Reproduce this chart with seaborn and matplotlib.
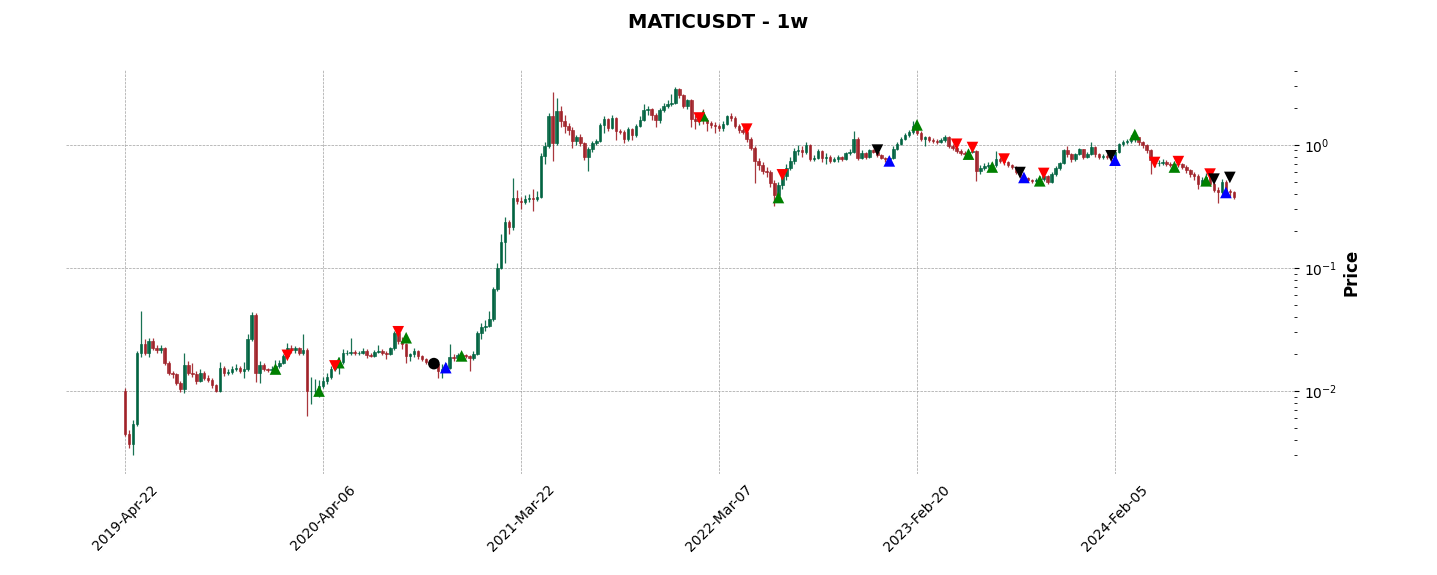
import numpy as np
import pandas as pd
import matplotlib
matplotlib.use("Agg")
import matplotlib.pyplot as plt
import seaborn as sns

# weekly candles, index 0 = 2019-Apr-22; open of each week = close of the week before
first_open = 0.0100
closes = [
    0.00445, 0.00373, 0.00536, 0.0205, 0.0239, 0.0205, 0.0255, 0.0225, 0.0215, 0.0225,
    0.0170, 0.0141, 0.0137, 0.0117, 0.0103, 0.0163, 0.0141, 0.0138, 0.0121, 0.0141,
    0.0128, 0.0123, 0.0112, 0.0100, 0.0153, 0.0140, 0.0142, 0.0150, 0.0155, 0.0145,
    0.0150, 0.0263, 0.0415, 0.0141, 0.0163, 0.0150, 0.0148, 0.0152, 0.0160, 0.0170,
    0.0193, 0.0225, 0.0215, 0.0225, 0.0205, 0.0215, 0.0100, 0.0100, 0.0101, 0.0110,
    0.0121, 0.0130, 0.0150, 0.0160, 0.0172, 0.0205, 0.0205, 0.0207, 0.0203, 0.0205,
    0.0213, 0.0197, 0.0193, 0.0208, 0.0213, 0.0203, 0.0199, 0.0222, 0.0298, 0.0255,
    0.0240, 0.0193, 0.0199, 0.0211, 0.0193, 0.0181, 0.0172, 0.0170, 0.0165, 0.0145,
    0.0150, 0.0155, 0.0190, 0.0185, 0.0195, 0.0195, 0.0193, 0.0185, 0.0199, 0.0298,
    0.0334, 0.0340, 0.0383, 0.0671, 0.1006, 0.161, 0.234, 0.213, 0.373, 0.35,
    0.34, 0.36, 0.37, 0.36, 0.38, 0.81, 0.98, 1.72, 1.04, 1.89,
    1.57, 1.43, 1.32, 1.08, 1.15, 1.03, 0.79, 0.92, 1.03, 1.08,
    1.45, 1.62, 1.38, 1.64, 1.30, 1.28, 1.11, 1.34, 1.20, 1.43,
    1.59, 1.92, 1.95, 1.73, 1.59, 1.92, 2.07, 2.14, 2.20, 2.84,
    2.52, 2.07, 2.30, 1.61, 1.55, 1.62, 1.58, 1.50, 1.45, 1.42,
    1.37, 1.47, 1.70, 1.65, 1.43, 1.32, 1.28, 1.11, 0.95, 0.74,
    0.68, 0.61, 0.60, 0.49, 0.39, 0.47, 0.56, 0.65, 0.74, 0.89,
    0.91, 0.87, 1.00, 0.77, 0.78, 0.89, 0.78, 0.80, 0.74, 0.76,
    0.79, 0.77, 0.85, 0.88, 1.11, 0.78, 0.85, 0.80, 0.90, 0.88,
    0.82, 0.78, 0.76, 0.78, 0.93, 1.02, 1.12, 1.20, 1.27, 1.42,
    1.25, 1.12, 1.15, 1.10, 1.08, 1.06, 1.10, 1.15, 0.98, 0.95,
    0.89, 0.86, 0.84, 0.87, 0.89, 0.61, 0.65, 0.67, 0.69, 0.68,
    0.76, 0.74, 0.72, 0.68, 0.66, 0.60, 0.56, 0.54, 0.52, 0.51,
    0.52, 0.53, 0.56, 0.50, 0.58, 0.65, 0.71, 0.905, 0.84, 0.76,
    0.84, 0.92, 0.80, 0.84, 0.96, 0.84, 0.79, 0.81, 0.80, 0.78,
    0.88, 1.01, 1.05, 1.08, 1.14, 1.15, 1.05, 1.00, 0.90, 0.75,
    0.71, 0.71, 0.73, 0.70, 0.69, 0.70, 0.70, 0.66, 0.62, 0.58,
    0.56, 0.48, 0.52, 0.55, 0.48, 0.43, 0.41, 0.50, 0.42, 0.41,
    0.38,
]
highs = [
    0.0105, 0.0048, 0.0058, 0.0210, 0.0447, 0.0265, 0.0270, 0.0270, 0.0235, 0.0235,
    0.0230, 0.0175, 0.0146, 0.0140, 0.0120, 0.0205, 0.0175, 0.0170, 0.0145, 0.0150,
    0.0145, 0.0135, 0.0128, 0.0115, 0.0172, 0.0160, 0.0150, 0.0160, 0.0165, 0.0160,
    0.0172, 0.0290, 0.0440, 0.0430, 0.0175, 0.0170, 0.0155, 0.0160, 0.0180, 0.0180,
    0.0200, 0.0245, 0.0235, 0.0233, 0.0230, 0.0289, 0.0222, 0.0130, 0.0125, 0.0122,
    0.0130, 0.0140, 0.0160, 0.0175, 0.0190, 0.0220, 0.0215, 0.0270, 0.0215, 0.0212,
    0.0222, 0.0218, 0.0205, 0.0215, 0.0235, 0.0218, 0.0210, 0.0230, 0.0310, 0.0320,
    0.0275, 0.0245, 0.0205, 0.0222, 0.0215, 0.0198, 0.0185, 0.0178, 0.0175, 0.0168,
    0.0165, 0.0170, 0.0239, 0.0200, 0.0205, 0.0205, 0.0200, 0.0198, 0.0210, 0.0310,
    0.0360, 0.0380, 0.0450, 0.0700, 0.1100, 0.190, 0.260, 0.245, 0.54, 0.43,
    0.38, 0.39, 0.40, 0.44, 0.42, 0.85, 1.05, 1.80, 2.66, 2.38,
    2.05, 1.75, 1.50, 1.40, 1.20, 1.22, 1.06, 0.96, 1.08, 1.12,
    1.50, 1.70, 1.66, 1.75, 1.68, 1.35, 1.32, 1.40, 1.38, 1.48,
    1.70, 2.14, 2.05, 2.00, 1.80, 2.00, 2.20, 2.30, 2.60, 2.93,
    2.90, 2.60, 2.35, 2.35, 1.75, 1.75, 1.95, 1.65, 1.55, 1.52,
    1.48, 1.55, 1.75, 1.80, 1.70, 1.48, 1.38, 1.32, 1.15, 0.98,
    0.78, 0.72, 0.66, 0.63, 0.52, 0.50, 0.60, 0.70, 0.80, 0.95,
    1.00, 0.98, 1.05, 1.02, 0.83, 0.93, 0.90, 0.85, 0.82, 0.79,
    0.82, 0.81, 0.88, 0.93, 1.29, 1.15, 0.90, 0.87, 0.93, 0.93,
    0.90, 0.84, 0.80, 0.81, 0.98, 1.05, 1.16, 1.24, 1.32, 1.55,
    1.48, 1.30, 1.18, 1.18, 1.14, 1.12, 1.14, 1.20, 1.17, 1.02,
    0.97, 0.92, 0.89, 0.92, 0.95, 0.91, 0.68, 0.71, 0.73, 0.72,
    0.89, 0.79, 0.76, 0.74, 0.70, 0.67, 0.62, 0.58, 0.55, 0.53,
    0.54, 0.56, 0.58, 0.57, 0.60, 0.67, 0.73, 0.93, 0.98, 0.86,
    0.86, 0.95, 0.93, 0.87, 1.06, 0.98, 0.86, 0.84, 0.84, 0.82,
    0.90, 1.04, 1.09, 1.12, 1.20, 1.29, 1.16, 1.08, 1.02, 0.92,
    0.78, 0.75, 0.77, 0.75, 0.73, 0.74, 0.73, 0.71, 0.68, 0.64,
    0.60, 0.58, 0.55, 0.59, 0.56, 0.50, 0.45, 0.53, 0.52, 0.44,
    0.42,
]
lows = [
    0.0043, 0.00346, 0.0030, 0.0052, 0.0190, 0.0195, 0.0190, 0.0215, 0.0205, 0.0205,
    0.0163, 0.0135, 0.0128, 0.0112, 0.0098, 0.0097, 0.0135, 0.0130, 0.0115, 0.0118,
    0.0122, 0.0118, 0.0105, 0.0098, 0.0098, 0.0133, 0.0135, 0.0138, 0.0145, 0.0140,
    0.0128, 0.0145, 0.0255, 0.0118, 0.0117, 0.0145, 0.0143, 0.0142, 0.0148, 0.0155,
    0.0165, 0.0188, 0.0205, 0.0205, 0.0195, 0.0195, 0.0063, 0.0078, 0.0092, 0.0090,
    0.0105, 0.0115, 0.0125, 0.0145, 0.0137, 0.0165, 0.0195, 0.0198, 0.0195, 0.0198,
    0.0200, 0.0185, 0.0188, 0.0188, 0.0202, 0.0195, 0.0183, 0.0195, 0.0215, 0.0240,
    0.0220, 0.0170, 0.0175, 0.0190, 0.0183, 0.0175, 0.0165, 0.0163, 0.0158, 0.0128,
    0.0128, 0.0148, 0.0150, 0.0175, 0.0180, 0.0185, 0.0185, 0.0145, 0.0178, 0.0195,
    0.0265, 0.0310, 0.0330, 0.0370, 0.0650, 0.098, 0.110, 0.190, 0.205, 0.33,
    0.30, 0.33, 0.34, 0.29, 0.35, 0.37, 0.70, 0.95, 0.74, 1.00,
    1.40, 1.25, 1.20, 0.95, 1.00, 0.98, 0.75, 0.61, 0.88, 1.00,
    1.05, 1.25, 1.30, 1.35, 1.10, 1.22, 1.03, 1.08, 1.10, 1.15,
    1.40, 1.55, 1.75, 1.60, 1.40, 1.50, 1.85, 2.00, 2.05, 2.15,
    2.40, 2.00, 1.95, 1.40, 1.35, 1.45, 1.48, 1.30, 1.38, 1.25,
    1.30, 1.30, 1.45, 1.55, 1.38, 1.25, 1.22, 1.05, 0.90, 0.49,
    0.62, 0.58, 0.55, 0.45, 0.32, 0.36, 0.44, 0.52, 0.62, 0.70,
    0.82, 0.80, 0.84, 0.74, 0.74, 0.76, 0.72, 0.70, 0.71, 0.72,
    0.73, 0.74, 0.75, 0.83, 0.86, 0.75, 0.76, 0.77, 0.78, 0.85,
    0.80, 0.76, 0.73, 0.74, 0.76, 0.90, 1.00, 1.09, 1.16, 1.22,
    1.20, 1.08, 0.98, 1.06, 1.04, 1.02, 1.03, 1.06, 0.94, 0.91,
    0.85, 0.83, 0.80, 0.82, 0.85, 0.51, 0.58, 0.63, 0.65, 0.65,
    0.66, 0.71, 0.69, 0.66, 0.64, 0.58, 0.54, 0.52, 0.50, 0.49,
    0.49, 0.50, 0.51, 0.48, 0.49, 0.56, 0.63, 0.70, 0.80, 0.73,
    0.74, 0.82, 0.77, 0.78, 0.82, 0.80, 0.77, 0.77, 0.76, 0.72,
    0.75, 0.86, 0.98, 1.01, 1.04, 1.05, 1.00, 0.95, 0.86, 0.58,
    0.66, 0.67, 0.68, 0.67, 0.66, 0.65, 0.66, 0.64, 0.59, 0.55,
    0.52, 0.44, 0.47, 0.50, 0.46, 0.41, 0.335, 0.40, 0.40, 0.38,
    0.36,
]

tick_pos = [0, 50, 100, 150, 200, 250]
tick_labels = ['2019-Apr-22', '2020-Apr-06', '2021-Mar-22',
               '2022-Mar-07', '2023-Feb-20', '2024-Feb-05']

# signal markers: candle index and price level
buy_idx = [38, 49, 54, 71, 85, 146, 165, 200, 213, 219, 231, 255, 265, 273]
buy_px = [0.0151, 0.0100, 0.0170, 0.0271, 0.0193, 1.72, 0.373, 1.45, 0.84, 0.66, 0.51, 1.21, 0.66, 0.51]
sell_idx = [41, 53, 69, 145, 157, 166, 210, 214, 222, 232, 260, 266, 274]
sell_px = [0.0195, 0.0160, 0.0303, 1.65, 1.34, 0.57, 1.01, 0.95, 0.765, 0.585, 0.718, 0.73, 0.578]
exit_idx = [190, 226, 249, 275, 279]
exit_px = [0.905, 0.595, 0.814, 0.526, 0.543]
cover_idx = [81, 193, 227, 250, 278]
cover_px = [0.0155, 0.74, 0.543, 0.75, 0.41]
hold_idx = [78]
hold_px = [0.0167]

UP = '#006340'
DOWN = '#A02128'

df = pd.DataFrame({'Close': closes, 'High': highs, 'Low': lows})
df['Open'] = [first_open] + closes[:-1]
df['x'] = np.arange(len(df))
up = df['Close'] >= df['Open']
colors = np.where(up, UP, DOWN)

sns.set_style('white')
plt.rcParams['font.family'] = ['DejaVu Sans']
plt.rcParams.update({'text.color': 'black', 'axes.labelcolor': 'black',
                     'xtick.color': 'black', 'ytick.color': 'black'})

fig = plt.figure(figsize=(14.37, 5.75), dpi=100)
ax = fig.add_axes([66/1437, 1-474/575, 1228/1437, 404/575])
ax.set_yscale('log')

# wicks then bodies
ax.vlines(df['x'], df['Low'], df['High'], colors=colors, linewidth=0.9, alpha=0.9, zorder=2)
body_lo = np.minimum(df['Open'], df['Close'])
body_hi = np.maximum(df['Open'], df['Close'])
ax.bar(df['x'], body_hi - body_lo, bottom=body_lo, width=0.65, color=colors,
       edgecolor=colors, linewidth=0.5, alpha=0.9, zorder=3)

groups = [
    (buy_idx, buy_px, '^', 'green'),
    (sell_idx, sell_px, 'v', 'red'),
    (exit_idx, exit_px, 'v', 'black'),
    (cover_idx, cover_px, '^', 'blue'),
    (hold_idx, hold_px, 'o', 'black'),
]
for idx, px, mk, col in groups:
    sns.scatterplot(x=idx, y=px, marker=mk, color=col, s=70, edgecolor='none',
                    legend=False, ax=ax, zorder=4)

ax.set_xlim(-14.9, 295.2)
ax.set_ylim(0.00212, 4.05)

ax.set_xticks(tick_pos)
ax.set_xticklabels(tick_labels, rotation=45, ha='center', fontsize=10)
ax.tick_params(axis='x', length=0, pad=6)

ax.yaxis.tick_right()
ax.yaxis.set_label_position('right')
ax.tick_params(axis='y', which='major', length=3.5, width=0.8, labelsize=10, right=True, left=False)
ax.tick_params(axis='y', which='minor', length=2, width=0.6, right=True, left=False)
ax.set_ylabel('Price', fontsize=12, fontweight='bold', labelpad=4)
ax.set_xlabel('')

ax.grid(True, which='major', linestyle='--', linewidth=0.5, color='#a0a0a0')
ax.grid(False, which='minor')
for sp in ax.spines.values():
    sp.set_visible(False)

fig.suptitle('MATICUSDT - 1w', fontsize=14, fontweight='bold', x=0.5, y=1-22/575, va='center')

fig.savefig('out.png', dpi=100)
